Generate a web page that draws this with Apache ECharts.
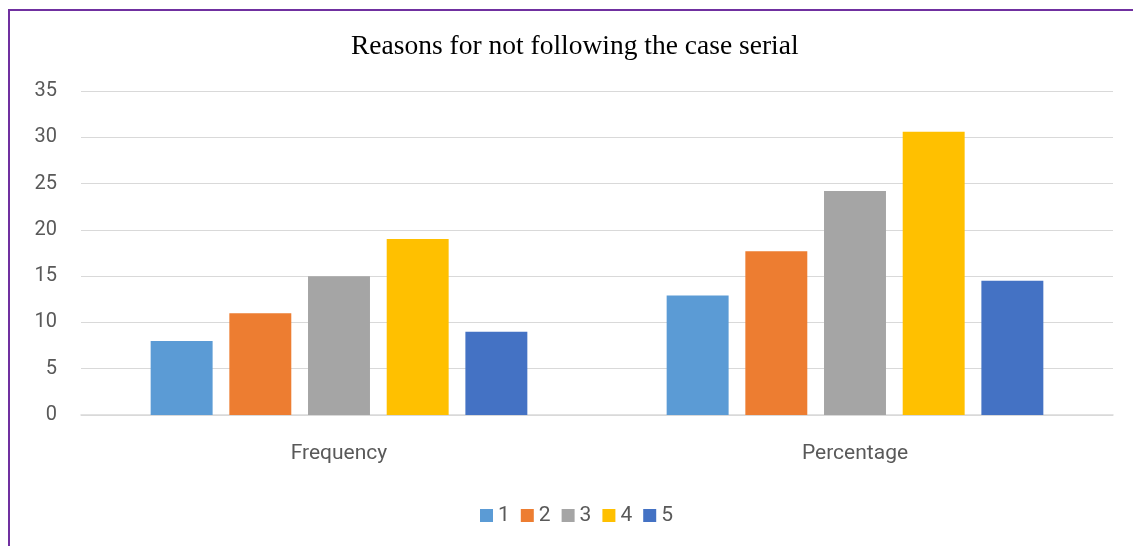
<!DOCTYPE html>
<html>
<head>
<meta charset="utf-8">
<script src="https://cdn.jsdelivr.net/npm/echarts@6/dist/echarts.min.js"></script>
<style>
  html, body { margin: 0; padding: 0; background: #fff; overflow: hidden; }
  #frame { position: absolute; left: 8px; top: 9px; width: 1150px; height: 560px; border: 2px solid #7030A0; box-sizing: border-box; }
  #main { position: absolute; left: 0; top: 0; width: 1133px; height: 546px; }
</style>
</head>
<body>
<div id="frame"></div>
<div id="main"></div>
<script>
  // 数据
  var categories = ['Frequency', 'Percentage'];
  var seriesNames = ['1', '2', '3', '4', '5'];
  var s1 = [8, 12.9];
  var s2 = [11, 17.7];
  var s3 = [15, 24.2];
  var s4 = [19, 30.6];
  var s5 = [9, 14.5];
  var colors = ['#5B9BD5', '#ED7D31', '#A5A5A5', '#FFC000', '#4472C4'];

  var labelFont = 'Roboto';

  var myChart = echarts.init(document.getElementById('main'));
  var allData = [s1, s2, s3, s4, s5];
  var series = [];
  for (var i = 0; i < allData.length; i++) {
    series.push({
      name: seriesNames[i],
      type: 'bar',
      data: allData[i],
      barGap: '27%',
      barCategoryGap: '27%',
      itemStyle: { color: colors[i] }
    });
  }

  var option = {
    backgroundColor: 'transparent',
    color: colors,
    title: {
      text: 'Reasons for not following the case serial',
      left: 346,
      top: 28,
      textStyle: { fontFamily: 'Liberation Serif', fontSize: 27.5, fontWeight: 'normal', color: '#000' }
    },
    legend: {
      data: seriesNames,
      top: 500,
      left: 475,
      icon: 'rect',
      itemWidth: 13,
      itemHeight: 13,
      itemGap: 11,
      textStyle: { fontFamily: labelFont, fontSize: 21, color: '#595959' }
    },
    grid: {
      left: 81,
      right: 20,
      top: 91,
      bottom: 131
    },
    xAxis: {
      type: 'category',
      data: categories,
      axisLine: { lineStyle: { color: '#D9D9D9', width: 1.5 } },
      axisTick: { show: false },
      axisLabel: { fontFamily: labelFont, fontSize: 21, color: '#595959', margin: 28 }
    },
    yAxis: {
      type: 'value',
      min: 0,
      max: 35,
      interval: 5,
      axisLine: { show: false },
      axisTick: { show: false },
      axisLabel: { fontFamily: labelFont, fontSize: 20, color: '#595959', margin: 24 },
      splitLine: { lineStyle: { color: '#D9D9D9', width: 1 } }
    },
    series: series
  };
  myChart.setOption(option);
</script>
</body>
</html>
